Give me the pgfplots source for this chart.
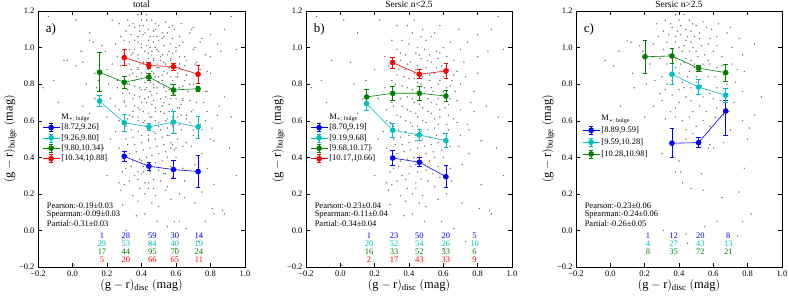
\documentclass[border=0pt]{standalone}
\usepackage{pgfplots}
\usepackage{pgfplotstable}
\pgfplotsset{compat=1.18}
\usepackage{fontspec}
\setmainfont{Liberation Serif}
\definecolor{cb}{RGB}{0,0,255}
\definecolor{cc}{RGB}{0,191,191}
\definecolor{cg}{RGB}{0,128,0}
\definecolor{cr}{RGB}{255,0,0}
\definecolor{dot}{RGB}{110,110,110}

% scatter of galaxies with Sersic n<2.5
\pgfplotstableread[row sep=\\]{
x y\\
-0.14 1.17\\ 0.02 1.15\\ 0.23 1.15\\ 0.43 1.15\\ 0.39 1.12\\ 0.58 1.12\\ 0.92 1.17\\ 0.48 1.10\\ 0.55 1.08\\ 0.10 1.08\\
0.42 1.08\\ 0.80 1.07\\ 0.53 1.06\\ 0.36 1.04\\ 0.30 1.04\\ 0.50 1.04\\ 0.64 1.03\\ 0.74 1.03\\ 0.40 1.02\\ 0.45 1.00\\
0.60 1.00\\ 0.33 0.99\\ 0.49 0.99\\ 0.70 0.99\\ 0.95 0.99\\ 0.56 0.98\\ 0.86 0.98\\ 0.44 0.97\\ 0.52 0.96\\ 0.38 0.96\\
0.62 0.95\\ 0.47 0.94\\ 0.57 0.94\\ 0.66 0.93\\ -0.05 0.93\\ 0.06 0.92\\ 0.35 0.93\\ 0.41 0.92\\ 0.53 0.92\\ 0.72 0.92\\
0.45 0.90\\ 0.59 0.90\\ 0.28 0.90\\ 0.50 0.89\\ 0.63 0.88\\ 0.38 0.88\\ 0.68 0.87\\ 0.80 0.86\\ 0.43 0.86\\ 0.55 0.86\\
0.33 0.85\\ 0.48 0.84\\ 0.60 0.84\\ 0.73 0.84\\ 0.40 0.83\\ 0.52 0.82\\ 0.65 0.82\\ 0.30 0.82\\ -0.17 0.78\\ -0.11 0.82\\
0.15 0.82\\ 0.45 0.81\\ 0.57 0.80\\ 0.70 0.80\\ 0.36 0.79\\ 0.49 0.78\\ 0.62 0.78\\ 0.26 0.78\\ 0.42 0.77\\ 0.54 0.76\\
0.67 0.76\\ 0.78 0.76\\ 0.33 0.75\\ 0.46 0.74\\ 0.59 0.74\\ 0.39 0.73\\ 0.51 0.72\\ 0.64 0.72\\ 0.22 0.72\\ 0.76 0.70\\
0.30 0.70\\ 0.43 0.70\\ 0.56 0.69\\ 0.85 0.68\\ 0.36 0.68\\ 0.48 0.67\\ 0.61 0.67\\ 0.70 0.66\\ 0.27 0.66\\ 0.41 0.65\\
0.53 0.64\\ 0.10 0.64\\ 0.33 0.63\\ 0.45 0.62\\ 0.58 0.62\\ 0.66 0.61\\ 0.92 0.62\\ 0.38 0.60\\ 0.50 0.59\\ 0.29 0.59\\
0.62 0.58\\ 0.74 0.58\\ 0.42 0.57\\ 0.55 0.56\\ 0.34 0.55\\ 0.47 0.54\\ 0.25 0.54\\ 0.60 0.53\\ 0.70 0.52\\ 0.40 0.52\\
0.52 0.51\\ 0.31 0.50\\ 0.44 0.49\\ 0.57 0.48\\ 0.82 0.49\\ 0.36 0.47\\ 0.49 0.46\\ 0.64 0.46\\ 0.27 0.45\\ 0.41 0.44\\
0.54 0.43\\ 0.69 0.46\\ 0.33 0.42\\ 0.46 0.41\\ 0.75 0.42\\ 0.30 0.39\\ 0.39 0.39\\ 0.52 0.38\\ 0.60 0.40\\ 0.44 0.36\\
0.71 0.36\\ 0.34 0.35\\ 0.50 0.33\\ 0.64 0.34\\ 0.29 0.32\\ 0.40 0.31\\ 0.36 0.30\\ 0.47 0.28\\ 0.58 0.29\\ 0.27 0.26\\
0.44 0.26\\ 0.30 0.25\\ 0.55 0.24\\ 0.28 0.22\\ 0.39 0.23\\ 0.44 0.23\\ 0.48 0.19\\ 0.38 0.16\\ 0.62 0.20\\ 0.50 0.13\\
0.71 0.15\\ 0.81 0.12\\ 0.87 0.11\\ 0.88 0.09\\ 0.37 0.08\\ 0.42 0.09\\ 0.49 0.05\\ 0.59 0.05\\ 0.66 0.01\\ 0.15 0.08\\
0.01 -0.19\\ 0.73 -0.06\\ 0.60 -0.10\\ 0.88 1.10\\ -0.08 0.70\\ 0.04 0.55\\ 0.91 0.45\\ 0.95 0.30\\ 0.10 0.38\\ 0.82 0.25\\
0.20 0.30\\ 0.18 0.45\\
0.35 0.97\\ 0.46 0.96\\ 0.58 0.97\\ 0.51 0.93\\ 0.39 0.91\\ 0.62 0.91\\ 0.44 0.88\\ 0.56 0.89\\ 0.34 0.88\\ 0.47 0.86\\
0.61 0.86\\ 0.37 0.84\\ 0.52 0.85\\ 0.66 0.85\\ 0.43 0.83\\ 0.58 0.82\\ 0.32 0.80\\ 0.47 0.80\\ 0.64 0.79\\ 0.39 0.78\\
0.53 0.78\\ 0.45 0.76\\ 0.60 0.76\\ 0.35 0.72\\ 0.49 0.75\\ 0.57 0.72\\ 0.42 0.72\\ 0.68 0.71\\ 0.31 0.68\\ 0.46 0.69\\
0.53 0.70\\ 0.63 0.69\\ 0.39 0.66\\ 0.51 0.65\\ 0.58 0.66\\ 0.44 0.64\\ 0.35 0.62\\ 0.55 0.61\\ 0.48 0.60\\ 0.63 0.63\\
0.41 0.59\\ 0.31 0.57\\ 0.45 0.57\\ 0.57 0.58\\ 0.68 0.59\\ 0.38 0.54\\ 0.51 0.55\\ 0.63 0.55\\ 0.44 0.52\\ 0.56 0.52\\
0.35 0.51\\ 0.48 0.50\\ 0.61 0.50\\ 0.40 0.48\\ 0.53 0.47\\ 0.32 0.47\\ 0.45 0.45\\ 0.59 0.44\\ 0.37 0.43\\ 0.50 0.42\\
0.43 0.40\\ 0.55 0.40\\ 0.35 0.38\\ 0.48 0.37\\ 0.41 0.35\\ 0.57 0.35\\ 0.31 0.34\\ 0.45 0.32\\ 0.54 0.31\\ 0.38 0.28\\
0.51 0.27\\ 0.33 0.27\\ 0.42 0.20\\ 0.35 0.19\\ 0.57 0.17\\ 0.29 0.14\\ 0.46 0.15\\ 0.65 0.27\\ 0.75 0.55\\ 0.78 0.65\\
0.80 0.95\\ 0.26 0.95\\ 0.20 0.88\\ 0.13 0.72\\ 0.08 0.80\\ 0.69 1.10\\ 0.33 1.12\\ 0.47 1.06\\ 0.27 0.60\\ 0.22 0.50\\
}\tabB

% scatter of galaxies with Sersic n>2.5
\pgfplotstableread[row sep=\\]{
x y\\
0.38 1.18\\ 0.43 1.18\\ 0.32 1.15\\ 0.40 1.15\\ 0.46 1.15\\ 0.54 1.14\\ 0.63 1.13\\ 0.59 1.10\\ 0.27 1.13\\ 0.36 1.11\\
0.50 1.12\\ 0.41 1.07\\ 0.47 1.09\\ 0.34 1.07\\ 0.52 1.05\\ 0.62 1.06\\ 0.68 1.08\\ 0.75 1.05\\ 0.10 1.04\\ 0.12 1.03\\
0.25 1.02\\ 0.47 1.03\\ 0.57 1.02\\ 0.38 1.03\\ 0.43 1.01\\ 0.50 0.98\\ 0.60 0.98\\ 0.71 1.00\\ 0.77 0.96\\ 0.34 0.96\\
0.29 0.94\\ 0.44 0.94\\ 0.47 0.93\\ 0.54 0.91\\ 0.62 0.89\\ 0.71 0.91\\ 0.78 0.87\\ 0.46 0.87\\ 0.38 0.89\\ 0.30 0.84\\
0.26 0.82\\ 0.42 0.81\\ 0.50 0.84\\ 0.57 0.84\\ 0.62 0.78\\ 0.73 0.81\\ 0.77 0.76\\ 0.29 0.75\\ 0.36 0.74\\ 0.44 0.73\\
0.54 0.73\\ 0.64 0.71\\ 0.72 0.70\\ 0.30 0.71\\ 0.25 0.68\\ 0.38 0.67\\ 0.48 0.65\\ 0.56 0.65\\ 0.62 0.67\\ 0.69 0.65\\
0.38 0.62\\ 0.46 0.62\\ 0.54 0.60\\ 0.61 0.62\\ 0.77 0.60\\ 0.81 0.56\\ 0.32 0.61\\ 0.44 0.55\\ 0.50 0.57\\ 0.70 0.55\\
0.55 0.52\\ -0.03 0.93\\ 0.02 0.90\\ 0.05 0.98\\ 0.17 1.01\\ 0.19 0.98\\ 0.84 1.02\\ 0.21 0.80\\ 0.14 0.78\\ 0.13 0.86\\
0.20 0.62\\ 0.88 0.73\\ 0.84 0.63\\ 0.06 0.68\\ 0.80 0.50\\ 0.58 0.47\\ 0.44 0.50\\ 0.39 1.09\\ 0.45 1.06\\ 0.42 0.98\\
0.48 1.00\\ 0.36 0.99\\ 0.52 1.08\\ 0.55 0.96\\ 0.41 0.91\\ 0.49 0.89\\ 0.35 0.86\\ 0.58 0.91\\ 0.65 0.95\\ 0.66 0.85\\
0.53 0.79\\ 0.40 0.77\\ 0.47 0.78\\ 0.33 0.80\\ 0.58 0.75\\ 0.38 0.32\\ 0.41 0.32\\ 0.53 0.31\\ 0.78 0.34\\ 0.42 0.26\\
0.47 0.23\\ 0.54 0.22\\ 0.75 0.21\\ 0.65 0.18\\ 0.82 0.09\\ 0.62 0.05\\ 0.77 0.05\\ 0.31 0.00\\ 0.44 -0.02\\ 0.55 0.02\\
0.74 -0.03\\ 0.45 -0.07\\ 0.57 0.45\\ 0.60 0.45\\ 0.30 0.42\\ 0.40 0.38\\ 0.66 0.48\\
0.41 1.12\\ 0.48 1.13\\ 0.35 1.13\\ 0.44 1.10\\ 0.56 1.11\\ 0.31 1.09\\ 0.49 1.06\\ 0.38 1.06\\ 0.58 1.05\\ 0.44 1.04\\
0.33 1.03\\ 0.53 1.01\\ 0.40 1.00\\ 0.46 0.98\\ 0.62 1.01\\ 0.31 0.99\\ 0.51 0.95\\ 0.38 0.94\\ 0.43 0.92\\ 0.57 0.93\\
0.33 0.91\\ 0.49 0.91\\ 0.65 0.90\\ 0.40 0.86\\ 0.53 0.87\\ 0.45 0.84\\ 0.61 0.84\\ 0.36 0.82\\ 0.50 0.81\\ 0.68 0.80\\
0.43 0.78\\ 0.56 0.77\\ 0.32 0.77\\ 0.47 0.71\\ 0.60 0.72\\ 0.40 0.70\\ 0.52 0.68\\ 0.35 0.65\\ 0.66 0.63\\ 0.42 0.60\\
0.58 0.57\\ 0.48 0.53\\ 0.28 1.06\\ 0.70 1.11\\ 0.23 0.91\\ 0.74 0.88\\
}\tabC

\newcommand{\cntfont}{\fontsize{8.5}{8.5}\selectfont}
\newcommand{\cnt}[3]{\node[text=#1, font=\cntfont, inner sep=0pt] at (axis cs:#2) {#3};}
\newcommand{\stat}[2]{\node[anchor=west, font=\fontsize{8.5}{9}\selectfont, inner sep=0pt] at (axis cs:-0.15,#1) {#2};}

\pgfplotsset{
  panel/.style={
    scale only axis, width=207bp, height=256bp,
    xmin=-0.2, xmax=1.0, ymin=-0.2, ymax=1.2,
    xtick={-0.2,0,0.2,0.4,0.6,0.8,1.0},
    xticklabels={−0.2,0.0,0.2,0.4,0.6,0.8,1.0},
    ytick={-0.2,0,0.2,0.4,0.6,0.8,1.0,1.2},
    yticklabels={−0.2,0.0,0.2,0.4,0.6,0.8,1.0,1.2},
    ticklabel style={font=\fontsize{8.5}{9}\selectfont},
    major tick length=4bp,
    tick style={black, line width=0.4pt},
    axis line style={line width=0.5pt},
    xlabel={$(\mathrm{g}-\mathrm{r})_{\mathrm{disc}}\ (\mathrm{mag})$},
    ylabel={$(\mathrm{g}-\mathrm{r})_{\mathrm{bulge}}\ (\mathrm{mag})$},
    label style={font=\fontsize{12.5}{14}\selectfont},
    xlabel style={at={(axis description cs:0.5,-0.074)}, anchor=center},
    ylabel style={at={(axis description cs:-0.135,0.5)}, anchor=center},
    title style={font=\fontsize{9.5}{10}\selectfont, yshift=-6bp},
    legend style={draw=none, fill=none, font=\fontsize{8.5}{9.5}\selectfont,
      at={(axis description cs:0.02,0.605)}, anchor=north west,
      row sep=0pt, inner sep=0pt, nodes={inner sep=1.5pt}},
    legend cell align=left,
    legend image code/.code={
      \draw[##1, mark=none] (0cm,0cm) -- (0.6cm,0cm);
      \draw[##1, mark=none] (0.3cm,-0.14cm) -- (0.3cm,0.14cm);
      \draw[##1, mark=none] (0.24cm,0.14cm) -- (0.36cm,0.14cm);
      \draw[##1, mark=none] (0.24cm,-0.14cm) -- (0.36cm,-0.14cm);
      \draw[##1, only marks] plot coordinates {(0.3cm,0cm)};
    },
  },
  dots/.style={only marks, mark=*, mark size=0.45pt, color=dot, forget plot},
  eb/.style={mark=*, mark size=2.5pt, line width=0.6pt,
    error bars/.cd, y dir=both, y explicit,
    error bar style={line width=0.8pt},
    error mark options={rotate=90, mark size=2.4pt, line width=0.8pt}},
}

\begin{document}
\begin{tikzpicture}
\useasboundingbox (0,0) rectangle (789bp,297bp);

% ---------------- panel a ----------------
\begin{axis}[panel, at={(38bp,30bp)}, anchor=south west, title={total}]
\addlegendimage{empty legend}
\addplot[dots] table[x=x,y=y]{\tabB};
\addplot[dots] table[x=x,y=y]{\tabC};
\addplot[cb, eb] coordinates {(0.30,0.405) +- (0,0.027) (0.443,0.351) +- (0,0.022) (0.585,0.333) +- (0,0.05) (0.728,0.322) +- (0,0.089)};
\addplot[cc, eb] coordinates {(0.157,0.708) +- (0,0.03) (0.30,0.589) +- (0,0.045) (0.443,0.566) +- (0,0.02) (0.585,0.593) +- (0,0.06) (0.728,0.566) +- (0,0.06)};
\addplot[cg, eb] coordinates {(0.157,0.865) +- (0,0.107) (0.30,0.810) +- (0,0.032) (0.443,0.839) +- (0,0.02) (0.585,0.768) +- (0,0.03) (0.728,0.775) +- (0,0.015)};
\addplot[cr, eb] coordinates {(0.30,0.945) +- (0,0.043) (0.443,0.902) +- (0,0.015) (0.585,0.896) +- (0,0.02) (0.728,0.854) +- (0,0.049)};
\legend{{$\mathrm{M}_{*;\,\mathrm{bulge}}$},{{}[8.72,9.26]},{{}[9.26,9.80]},{{}[9.80,10.34]},{{}[10.34,10.88]}}
\node[anchor=west, font=\fontsize{13}{14}\selectfont] at (axis cs:-0.175,1.10) {a)};
\stat{0.133}{Pearson:-0.19±0.03}
\stat{0.085}{Spearman:-0.09±0.03}
\stat{0.037}{Partial:-0.31±0.03}
\cnt{cb}{0.171,-0.030}{1}\cnt{cb}{0.310,-0.030}{28}\cnt{cb}{0.463,-0.030}{59}\cnt{cb}{0.594,-0.030}{30}\cnt{cb}{0.733,-0.030}{14}
\cnt{cc}{0.171,-0.074}{29}\cnt{cc}{0.310,-0.074}{53}\cnt{cc}{0.463,-0.074}{84}\cnt{cc}{0.594,-0.074}{40}\cnt{cc}{0.733,-0.074}{19}
\cnt{cg}{0.171,-0.117}{17}\cnt{cg}{0.310,-0.117}{44}\cnt{cg}{0.463,-0.117}{95}\cnt{cg}{0.594,-0.117}{70}\cnt{cg}{0.733,-0.117}{24}
\cnt{cr}{0.171,-0.160}{5}\cnt{cr}{0.310,-0.160}{20}\cnt{cr}{0.463,-0.160}{66}\cnt{cr}{0.594,-0.160}{65}\cnt{cr}{0.733,-0.160}{11}
\end{axis}

% ---------------- panel b ----------------
\begin{axis}[panel, at={(306bp,30bp)}, anchor=south west, width=206bp, title={Sersic n<2.5}]
\addlegendimage{empty legend}
\addplot[dots] table[x=x,y=y]{\tabB};
\addplot[cb, eb] coordinates {(0.305,0.396) +- (0,0.04) (0.46,0.373) +- (0,0.025) (0.615,0.294) +- (0,0.06)};
\addplot[cc, eb] coordinates {(0.153,0.693) +- (0,0.035) (0.305,0.548) +- (0,0.04) (0.46,0.522) +- (0,0.03) (0.615,0.491) +- (0,0.038)};
\addplot[cg, eb] coordinates {(0.153,0.730) +- (0,0.04) (0.305,0.750) +- (0,0.037) (0.46,0.750) +- (0,0.04) (0.615,0.735) +- (0,0.03)};
\addplot[cr, eb] coordinates {(0.305,0.918) +- (0,0.03) (0.46,0.854) +- (0,0.025) (0.615,0.872) +- (0,0.04)};
\legend{{$\mathrm{M}_{*;\,\mathrm{bulge}}$},{{}[8.70,9.19]},{{}[9.19,9.68]},{{}[9.68,10.17]},{{}[10.17,10.66]}}
\node[anchor=west, font=\fontsize{13}{14}\selectfont] at (axis cs:-0.175,1.10) {b)};
\stat{0.133}{Pearson:-0.23±0.04}
\stat{0.085}{Spearman:-0.11±0.04}
\stat{0.037}{Partial:-0.34±0.04}
\cnt{cb}{0.167,-0.030}{1}\cnt{cb}{0.313,-0.030}{23}\cnt{cb}{0.46,-0.030}{50}\cnt{cb}{0.615,-0.030}{20}\cnt{cb}{0.782,-0.030}{5}
\cnt{cc}{0.167,-0.074}{20}\cnt{cc}{0.313,-0.074}{52}\cnt{cc}{0.46,-0.074}{54}\cnt{cc}{0.615,-0.074}{26}\cnt{cc}{0.782,-0.074}{10}
\cnt{cg}{0.167,-0.117}{16}\cnt{cg}{0.313,-0.117}{33}\cnt{cg}{0.46,-0.117}{52}\cnt{cg}{0.615,-0.117}{33}\cnt{cg}{0.782,-0.117}{6}
\cnt{cr}{0.167,-0.160}{2}\cnt{cr}{0.313,-0.160}{17}\cnt{cr}{0.46,-0.160}{43}\cnt{cr}{0.615,-0.160}{33}\cnt{cr}{0.782,-0.160}{9}
\end{axis}

% ---------------- panel c ----------------
\begin{axis}[panel, at={(576bp,30bp)}, anchor=south west, width=206bp, title={Sersic n>2.5},
  legend style={at={(axis description cs:0.03,0.60)}, row sep=1.5pt}]
\addlegendimage{empty legend}
\addplot[dots] table[x=x,y=y]{\tabC};
\addplot[cb, eb] coordinates {(0.359,0.477) +- (0,0.079) (0.514,0.480) +- (0,0.028) (0.672,0.653) += (0,0.057) -= (0,0.131)};
\addplot[cc, eb] coordinates {(0.359,0.854) +- (0,0.057) (0.514,0.784) +- (0,0.04) (0.672,0.739) +- (0,0.04)};
\addplot[cg, eb] coordinates {(0.202,0.950) +- (0,0.09) (0.359,0.954) +- (0,0.043) (0.514,0.887) +- (0,0.015) (0.672,0.863) +- (0,0.047)};
\legend{{$\mathrm{M}_{*;\,\mathrm{bulge}}$},{{}[8.89,9.59]},{{}[9.59,10.28]},{{}[10.28,10.98]}}
\node[anchor=west, font=\fontsize{13}{14}\selectfont] at (axis cs:-0.175,1.10) {c)};
\stat{0.133}{Pearson:-0.23±0.06}
\stat{0.085}{Spearman:-0.24±0.06}
\stat{0.037}{Partial:-0.26±0.05}
\cnt{cb}{0.219,-0.030}{1}\cnt{cb}{0.369,-0.030}{12}\cnt{cb}{0.524,-0.030}{20}\cnt{cb}{0.687,-0.030}{8}
\cnt{cc}{0.219,-0.074}{4}\cnt{cc}{0.369,-0.074}{27}\cnt{cc}{0.524,-0.074}{43}\cnt{cc}{0.687,-0.074}{13}
\cnt{cg}{0.219,-0.117}{8}\cnt{cg}{0.369,-0.117}{35}\cnt{cg}{0.524,-0.117}{72}\cnt{cg}{0.687,-0.117}{21}
\end{axis}
\end{tikzpicture}
\end{document}
